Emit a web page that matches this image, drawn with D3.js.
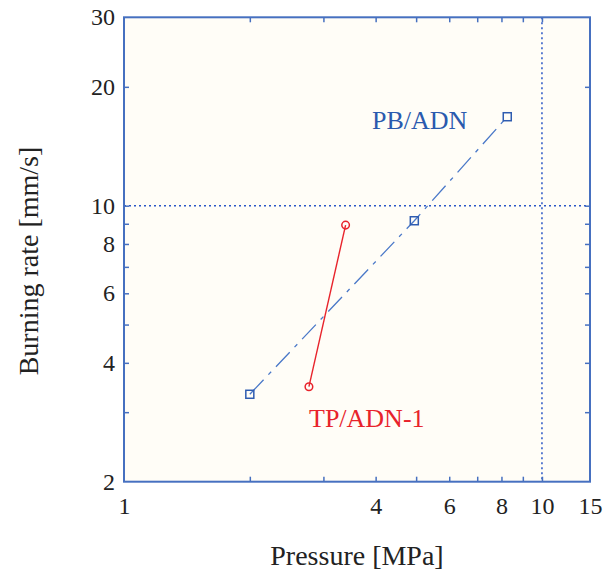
<!DOCTYPE html>
<html>
<head>
<meta charset="utf-8">
<script src="https://cdn.jsdelivr.net/npm/d3@7"></script>
<style>
  html, body { margin: 0; padding: 0; background: #ffffff; }
  svg { display: block; }
  text { font-family: "Liberation Serif", "Times New Roman", serif; }
</style>
</head>
<body>
<svg id="chart" width="607" height="572"></svg>
<script>
// ---- data ----
const pbPressure = [2.0, 4.95, 8.26];
const pbRate = [3.33, 9.16, 16.8];
const tpPressure = [2.77, 3.39];
const tpRate = [3.48, 8.93];

const xDomain = [1, 13.03];
const yDomain = [2, 30];
const xMinorTicks = [2, 3, 4, 5, 6, 7, 8, 9, 10];
const xLabelValues = [1, 4, 6, 8, 10, 13.03];
const xLabelTexts = ["1", "4", "6", "8", "10", "15"];
const yMinorTicks = [3, 4, 5, 6, 7, 8, 9, 10, 20];
const yLabelValues = [2, 4, 6, 8, 10, 20, 30];
const yLabelTexts = ["2", "4", "6", "8", "10", "20", "30"];
const refX = [10];
const refY = [10];

// ---- layout ----
const svg = d3.select("#chart");
const L = 124, R = 590, T = 17.3, B = 481.7;
const axisColor = "#4670c0";
const blue = "#2f5cb0";
const red = "#e8232b";

const x = d3.scaleLog().domain(xDomain).range([L, R]);
const y = d3.scaleLog().domain(yDomain).range([B, T]);

// plot background
svg.append("rect").attr("x", L).attr("y", T).attr("width", R - L).attr("height", B - T)
  .attr("fill", "#fffdf7");

// reference dotted lines
svg.selectAll(".refx").data(refX).enter().append("line")
  .attr("x1", d => x(d)).attr("x2", d => x(d)).attr("y1", T).attr("y2", B)
  .attr("stroke", "#2a56c6").attr("stroke-width", 1.5).attr("stroke-dasharray", "2,3");
svg.selectAll(".refy").data(refY).enter().append("line")
  .attr("x1", L).attr("x2", R).attr("y1", d => y(d)).attr("y2", d => y(d))
  .attr("stroke", "#2a56c6").attr("stroke-width", 1.5).attr("stroke-dasharray", "2,3");

// axes ticks (inward) on all four sides
function styleAxis(g) {
  g.select(".domain").remove();
  g.selectAll(".tick line").attr("stroke", axisColor).attr("stroke-width", 1.5);
}
svg.append("g").attr("transform", `translate(0,${B})`)
  .call(d3.axisBottom(x).tickValues(xMinorTicks).tickSize(-5).tickFormat(""))
  .call(styleAxis);
svg.append("g").attr("transform", `translate(0,${T})`)
  .call(d3.axisTop(x).tickValues(xMinorTicks).tickSize(-5).tickFormat(""))
  .call(styleAxis);
svg.append("g").attr("transform", `translate(${L},0)`)
  .call(d3.axisLeft(y).tickValues(yMinorTicks).tickSize(-5).tickFormat(""))
  .call(styleAxis);
svg.append("g").attr("transform", `translate(${R},0)`)
  .call(d3.axisRight(y).tickValues(yMinorTicks).tickSize(-5).tickFormat(""))
  .call(styleAxis);

// tick labels
const xl = svg.append("g").attr("transform", `translate(0,${B})`)
  .call(d3.axisBottom(x).tickValues(xLabelValues).tickSize(0).tickPadding(15)
    .tickFormat((d, i) => xLabelTexts[i]));
xl.select(".domain").remove();
xl.selectAll("text").attr("font-size", 24).attr("fill", "#222")
  .attr("font-family", "Liberation Serif, Times New Roman, serif");

const yl = svg.append("g").attr("transform", `translate(${L},0)`)
  .call(d3.axisLeft(y).tickValues(yLabelValues).tickSize(0).tickPadding(9)
    .tickFormat((d, i) => yLabelTexts[i]));
yl.select(".domain").remove();
yl.selectAll("text").attr("font-size", 24).attr("fill", "#222")
  .attr("font-family", "Liberation Serif, Times New Roman, serif");

// frame
svg.append("rect").attr("x", L).attr("y", T).attr("width", R - L).attr("height", B - T)
  .attr("fill", "none").attr("stroke", axisColor).attr("stroke-width", 2);

// series lines
const pbData = pbPressure.map((p, i) => [p, pbRate[i]]);
const tpData = tpPressure.map((p, i) => [p, tpRate[i]]);
const line = d3.line().x(d => x(d[0])).y(d => y(d[1]));

svg.append("path").datum(pbData).attr("d", line)
  .attr("fill", "none").attr("stroke", "#4a78c8").attr("stroke-width", 1.3)
  .attr("stroke-dasharray", "20,7,4,7");
svg.append("path").datum(tpData).attr("d", line)
  .attr("fill", "none").attr("stroke", red).attr("stroke-width", 1.4);

// markers
svg.selectAll(".sq").data(pbData).enter().append("rect")
  .attr("x", d => x(d[0]) - 4).attr("y", d => y(d[1]) - 4)
  .attr("width", 8).attr("height", 8)
  .attr("fill", "none").attr("stroke", blue).attr("stroke-width", 1.5);
svg.selectAll(".ci").data(tpData).enter().append("circle")
  .attr("cx", d => x(d[0])).attr("cy", d => y(d[1])).attr("r", 3.8)
  .attr("fill", "none").attr("stroke", red).attr("stroke-width", 1.5);

// series labels
svg.append("text").attr("x", 372).attr("y", 129).attr("font-size", 26)
  .attr("fill", "#2a5aae").text("PB/ADN");
svg.append("text").attr("x", 309).attr("y", 427).attr("font-size", 26)
  .attr("fill", red).text("TP/ADN-1");

// axis titles
svg.append("text").attr("x", (L + R) / 2 - 0).attr("y", 565)
  .attr("text-anchor", "middle").attr("font-size", 28).attr("fill", "#222")
  .text("Pressure [MPa]");
svg.append("text").attr("transform", "translate(38,261) rotate(-90)")
  .attr("text-anchor", "middle").attr("font-size", 28).attr("fill", "#222")
  .text("Burning rate [mm/s]");
</script>
</body>
</html>
